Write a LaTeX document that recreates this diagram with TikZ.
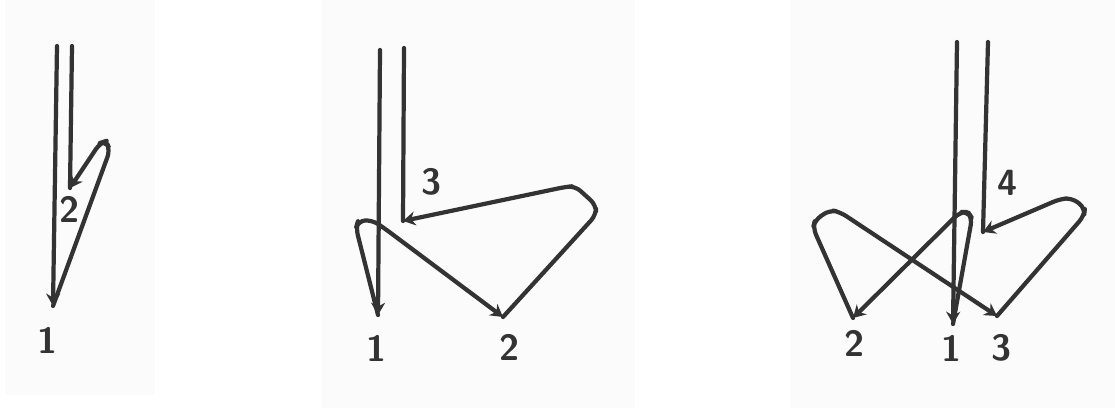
\documentclass[tikz,border=0pt]{standalone}
\usepackage{xcolor}
\usetikzlibrary{arrows.meta}
\definecolor{inkdark}{HTML}{333333}
\definecolor{paper}{HTML}{FBFBFB}

\begin{document}
\begin{tikzpicture}[x=0.02cm, y=-0.02cm, >=Stealth,
    trace/.style={draw=inkdark, line width=2.4pt, line cap=round, line join=round, rounded corners=4pt},
    tipped/.style={trace, -{Stealth[length=7pt, width=8pt]}},
    num/.style={text=inkdark, font=\sffamily\bfseries\huge, inner sep=0pt}]
  \useasboundingbox (0,0) rectangle (1115,408);
  \fill[paper] (5,0) rectangle (155,395);
  \fill[paper] (322,0) rectangle (635,408);
  \fill[paper] (790,0) rectangle (1115,408);

  % first
  \coordinate (AS) at (57,46);
  \coordinate (AE) at (72,46);
  \coordinate (A1) at (53,306);
  \coordinate (A2) at (70,188);
  \draw[tipped] (AS) -- (A1);
  \draw[tipped] (A1) -- (110,150) -- (106,141) -- (100,143) -- (A2);
  \draw[trace] (A2) -- (AE);
  \node[num] (an1) at (48,340) {1};
  \node[num] (an2) at (70,209) {2};

  % second
  \coordinate (BS) at (380,50);
  \coordinate (BE) at (404,48);
  \coordinate (B1) at (378,315);
  \coordinate (B2) at (503,317);
  \coordinate (B3) at (403,221);
  \draw[tipped] (BS) -- (B1);
  \draw[tipped] (B1) -- (356,228) -- (358,221) -- (372,220) -- (384,228) -- (B2);
  \draw[tipped] (B2) -- (596,215) -- (596,205) -- (575,186) -- (565,187) -- (B3);
  \draw[trace] (B3) -- (BE);
  \node[num] (bn1) at (377,348) {1};
  \node[num] (bn2) at (510,347) {2};
  \node[num] (bn3) at (432,182) {3};

  % third
  \coordinate (CS) at (957,42);
  \coordinate (CE) at (988,42);
  \coordinate (C1) at (953,324);
  \coordinate (C2) at (853,318);
  \coordinate (C3) at (997,316);
  \coordinate (C4) at (983,232);
  \draw[tipped] (CS) -- (C1);
  \draw[tipped] (C1) -- (972,218) -- (968,212) -- (960,212) -- (C2);
  \draw[tipped] (C2) -- (813,228) -- (815,220) -- (830,210) -- (840,212) -- (C3);
  \draw[tipped] (C3) -- (1084,216) -- (1085,208) -- (1072,198) -- (1060,199) -- (C4);
  \draw[trace] (C4) -- (CE);
  \node[num] (cn2) at (855,343) {2};
  \node[num] (cn1) at (952,348) {1};
  \node[num] (cn3) at (1002,348) {3};
  \node[num] (cn4) at (1008,183) {4};
\end{tikzpicture}
\end{document}
